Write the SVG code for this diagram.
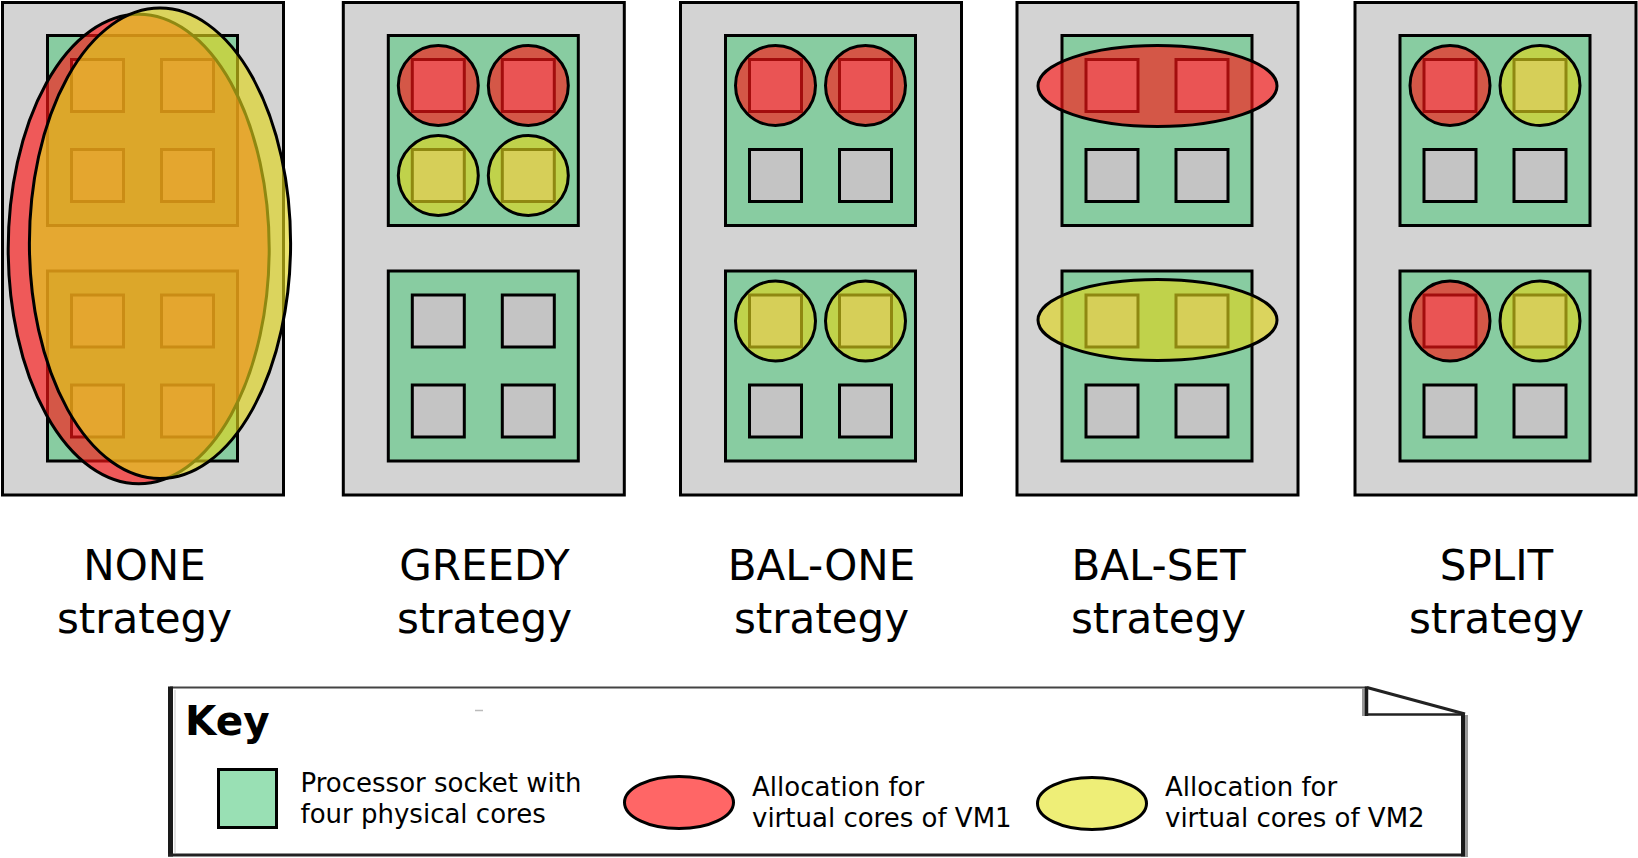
<svg xmlns="http://www.w3.org/2000/svg" width="1638" height="858" viewBox="0 0 1638 858">
<style>
.outer{fill:#d3d3d3;stroke:#000;stroke-width:3}
.socket{fill:#88cca1;stroke:#000;stroke-width:3}
.core{fill:#c4c4c4;stroke:#000;stroke-width:3}
.vm1{fill:#ff1414;fill-opacity:0.64;stroke:#000;stroke-width:3}
.vm2{fill:#dfd41a;fill-opacity:0.64;stroke:#000;stroke-width:3}
.lbl{font-family:"DejaVu Sans","Liberation Sans",sans-serif;font-size:42px;fill:#000;text-anchor:middle}
.ktxt{font-family:"DejaVu Sans","Liberation Sans",sans-serif;font-size:26px;fill:#000}
</style>
<defs>
<g id="server">
<rect class="outer" x="0" y="2.5" width="281" height="492.5"/>
<rect class="socket" x="45" y="35.5" width="190" height="190"/>
<rect class="core" x="69" y="59.5" width="52" height="52"/>
<rect class="core" x="159" y="59.5" width="52" height="52"/>
<rect class="core" x="69" y="149.5" width="52" height="52"/>
<rect class="core" x="159" y="149.5" width="52" height="52"/>
<rect class="socket" x="45" y="271" width="190" height="190"/>
<rect class="core" x="69" y="295" width="52" height="52"/>
<rect class="core" x="159" y="295" width="52" height="52"/>
<rect class="core" x="69" y="385" width="52" height="52"/>
<rect class="core" x="159" y="385" width="52" height="52"/>
</g>
</defs>
<rect x="0" y="0" width="1638" height="858" fill="#fff"/>
<g id="connectors"/>
<g id="none-strategy">
<use href="#server" x="2.5"/>
<ellipse class="vm1" cx="138.7" cy="249" rx="130.5" ry="234.7"/>
<ellipse class="vm2" cx="160" cy="243.3" rx="130.6" ry="235.2"/>
<text class="lbl" x="144.5" y="580">NONE</text>
<text class="lbl" x="144.5" y="633">strategy</text>
</g>
<g id="greedy-strategy">
<use href="#server" x="343.3"/>
<circle class="vm1" cx="438.3" cy="85.5" r="40"/>
<circle class="vm1" cx="528.3" cy="85.5" r="40"/>
<circle class="vm2" cx="438.3" cy="175.5" r="40"/>
<circle class="vm2" cx="528.3" cy="175.5" r="40"/>
<text class="lbl" x="484.5" y="580">GREEDY</text>
<text class="lbl" x="484.5" y="633">strategy</text>
</g>
<g id="bal-one-strategy">
<use href="#server" x="680.5"/>
<circle class="vm1" cx="775.5" cy="85.5" r="40"/>
<circle class="vm1" cx="865.5" cy="85.5" r="40"/>
<circle class="vm2" cx="775.5" cy="321" r="40"/>
<circle class="vm2" cx="865.5" cy="321" r="40"/>
<text class="lbl" x="821.5" y="580">BAL-ONE</text>
<text class="lbl" x="821.5" y="633">strategy</text>
</g>
<g id="bal-set-strategy">
<use href="#server" x="1017"/>
<ellipse class="vm1" cx="1157.5" cy="86" rx="119.5" ry="40.5"/>
<ellipse class="vm2" cx="1157.5" cy="320" rx="119.5" ry="40.5"/>
<text class="lbl" x="1158.5" y="580">BAL-SET</text>
<text class="lbl" x="1158.5" y="633">strategy</text>
</g>
<g id="split-strategy">
<use href="#server" x="1355"/>
<circle class="vm1" cx="1450" cy="85.5" r="40"/>
<circle class="vm2" cx="1540" cy="85.5" r="40"/>
<circle class="vm1" cx="1450" cy="321" r="40"/>
<circle class="vm2" cx="1540" cy="321" r="40"/>
<text class="lbl" x="1496.5" y="580">SPLIT</text>
<text class="lbl" x="1496.5" y="633">strategy</text>
</g>
<g id="key">
<path d="M170,687.5 H1367 L1464,714 V855 H170 Z" fill="#fff" stroke="none"/>
<line x1="170" y1="687.5" x2="1367" y2="687.5" stroke="#444" stroke-width="2"/>
<line x1="170.5" y1="686.5" x2="170.5" y2="856.5" stroke="#1a1a1a" stroke-width="5"/>
<line x1="175" y1="690" x2="175" y2="853" stroke="#e2e2e2" stroke-width="2"/>
<line x1="168" y1="855" x2="1468" y2="855" stroke="#222" stroke-width="3"/>
<line x1="1463" y1="713" x2="1463" y2="856.5" stroke="#1a1a1a" stroke-width="4"/>
<line x1="1466.5" y1="715" x2="1466.5" y2="856.5" stroke="#999" stroke-width="3"/>
<line x1="1363.5" y1="688" x2="1363.5" y2="716" stroke="#999" stroke-width="3"/>
<line x1="1366.5" y1="686.5" x2="1366.5" y2="716" stroke="#1a1a1a" stroke-width="3.5"/>
<line x1="1366" y1="714.5" x2="1465" y2="714.5" stroke="#222" stroke-width="2.5"/>
<line x1="1367" y1="687.5" x2="1465" y2="714" stroke="#222" stroke-width="3"/>
<line x1="475" y1="710.5" x2="483" y2="710.5" stroke="#bbb" stroke-width="1.5"/>
<text x="185" y="735" font-family="'DejaVu Sans','Liberation Sans',sans-serif" font-size="40.5" font-weight="bold" fill="#000">Key</text>
<g id="key-socket">
<rect x="218.5" y="769.5" width="58" height="58" fill="#99e0b4" stroke="#000" stroke-width="3"/>
<text class="ktxt" x="300.5" y="792">Processor socket with</text>
<text class="ktxt" x="300.5" y="823">four physical cores</text>
</g>
<g id="key-vm1">
<ellipse cx="679" cy="802.5" rx="54.5" ry="26" fill="#ff6666" stroke="#000" stroke-width="3"/>
<text class="ktxt" x="752" y="796">Allocation for</text>
<text class="ktxt" x="752" y="827">virtual cores of VM1</text>
</g>
<g id="key-vm2">
<ellipse cx="1092" cy="803.5" rx="54.5" ry="26" fill="#eeee77" stroke="#000" stroke-width="3"/>
<text class="ktxt" x="1165" y="796">Allocation for</text>
<text class="ktxt" x="1165" y="827">virtual cores of VM2</text>
</g>
</g>
</svg>
